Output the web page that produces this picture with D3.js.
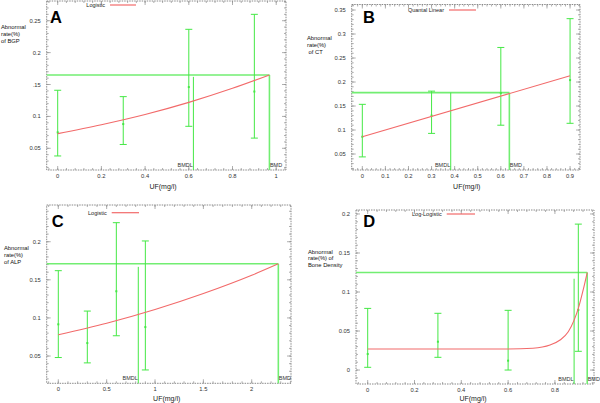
<!DOCTYPE html>
<html><head><meta charset="utf-8">
<script src="https://cdn.jsdelivr.net/npm/d3@7"></script>
<style>body{margin:0;background:#fff}svg{display:block}text{font-family:"Liberation Sans",Arial,sans-serif}</style>
</head><body>
<svg id="c" width="600" height="403"></svg>
<script>
// ---------- data ----------
const doseA = [0, 0.3, 0.6, 0.9];
const meanA = [0.075, 0.088, 0.146, 0.139];
const lowA  = [0.038, 0.056, 0.0845, 0.066];
const highA = [0.141, 0.131, 0.2365, 0.260];
const fitXA = [0, 0.2, 0.4, 0.6, 0.8, 0.969];
const fitYA = [0.073, 0.087, 0.103, 0.122, 0.144, 0.165];
const bmdA = {bmr: 0.165, bmdl: 0.621, bmd: 0.969, bmdlTop: 0.162};
const xTicksA = [0, 0.2, 0.4, 0.6, 0.8, 1];
const xTickLabelsA = ["0", "0.2", "0.4", "0.6", "0.8", "1"];
const yTicksA = [0.05, 0.1, 0.15, 0.2, 0.25];
const yTickLabelsA = ["0.05", "0.1", ".15", "0.2", "0.25"];

const doseB = [0, 0.3, 0.6, 0.9];
const meanB = [0.086, 0.130, 0.177, 0.204];
const lowB  = [0.044, 0.093, 0.110, 0.114];
const highB = [0.1535, 0.181, 0.272, 0.332];
const fitXB = [0, 0.9];
const fitYB = [0.086, 0.213];
const bmdB = {bmr: 0.178, bmdl: 0.383, bmd: 0.637, bmdlTop: 0.178};
const xTicksB = [0, 0.1, 0.2, 0.3, 0.4, 0.5, 0.6, 0.7, 0.8, 0.9];
const xTickLabelsB = ["0", "0.1", "0.2", "0.3", "0.4", "0.5", "0.6", "0.7", "0.8", "0.9"];
const yTicksB = [0.05, 0.1, 0.15, 0.2, 0.25, 0.3, 0.35];
const yTickLabelsB = ["0.05", "0.1", "0.15", "0.2", "0.25", "0.3", "0.35"];

const doseC = [0, 0.3, 0.6, 0.9];
const meanC = [0.0916, 0.067, 0.135, 0.088];
const lowC  = [0.048, 0.041, 0.0766, 0.0317];
const highC = [0.162, 0.109, 0.225, 0.201];
const fitXC = [0, 0.5, 1, 1.5, 2, 2.275];
const fitYC = [0.078, 0.093, 0.111, 0.132, 0.156, 0.171];
const bmdC = {bmr: 0.171, bmdl: 0.827, bmd: 2.275, bmdlTop: 0.167};
const xTicksC = [0, 0.5, 1, 1.5, 2];
const xTickLabelsC = ["0", "0.5", "1", "1.5", "2"];
const yTicksC = [0.05, 0.1, 0.15, 0.2];
const yTickLabelsC = ["0.05", "0.1", "0.15", "0.2"];

const doseD = [0, 0.3, 0.6, 0.9];
const meanD = [0.0205, 0.0363, 0.012, 0.077];
const lowD  = [0.0035, 0.0163, 0.0, 0.024];
const highD = [0.079, 0.0727, 0.0765, 0.187];
const fitXD = [0, 0.2, 0.4, 0.6, 0.706, 0.779, 0.822, 0.857, 0.882, 0.900, 0.921, 0.938];
const fitYD = [0.027, 0.027, 0.027, 0.027, 0.028, 0.032, 0.0385, 0.049, 0.064, 0.079, 0.103, 0.125];
const bmdD = {bmr: 0.125, bmdl: 0.882, bmd: 0.938, bmdlTop: 0.117};
const xTicksD = [0, 0.2, 0.4, 0.6, 0.8];
const xTickLabelsD = ["0", "0.2", "0.4", "0.6", "0.8"];
const yTicksD = [0, 0.05, 0.1, 0.15, 0.2];
const yTickLabelsD = ["0", "0.05", "0.1", "0.15", "0.2"];

const letters = ["A", "B", "C", "D"];
const legendNames = ["Logistic", "Quantal Linear", "Logistic", "Log-Logistic"];
const yLabels = [["Abnormal", "rate(%)", "of BGP"], ["Abnormal", "rate(%)", " of CT"], ["Abnormal", "rate(%)", "of ALP"], ["Abnormal", "rate(%) of", "Bone Density"]];
const xLabel = "UF(mg/l)";

// ---------- layout ----------
const panels = [
  {dose: doseA, mean: meanA, low: lowA, high: highA, fx: fitXA, fy: fitYA, bmd: bmdA, xt: xTicksA, xtl: xTickLabelsA, yt: yTicksA, ytl: yTickLabelsA,
   box: [46.7, 286, 1, 170], xd: [-0.0503, 1.0448], yd: [0.016, 0.2809],
   yl: [1, 29, 7], letter: [50, 23], leg: [110, 136, 5], xlab: [163, 189]},
  {dose: doseB, mean: meanB, low: lowB, high: highB, fx: fitXB, fy: fitYB, bmd: bmdB, xt: xTicksB, xtl: xTickLabelsB, yt: yTicksB, ytl: yTickLabelsB,
   box: [351.7, 580, 4.5, 170], xd: [-0.046, 0.943], yd: [0.0167, 0.3615],
   yl: [307, 40, 7], letter: [363, 23], leg: [449, 476, 10], xlab: [466.7, 189]},
  {dose: doseC, mean: meanC, low: lowC, high: highC, fx: fitXC, fy: fitYC, bmd: bmdC, xt: xTicksC, xtl: xTickLabelsC, yt: yTicksC, ytl: yTickLabelsC,
   box: [46.7, 291, 205, 383.3], xd: [-0.12, 2.406], yd: [0.0142, 0.2482],
   yl: [4, 250, 7], letter: [51.7, 226.5], leg: [111.7, 139, 212.7], xlab: [166.7, 401]},
  {dose: doseD, mean: meanD, low: lowD, high: highD, fx: fitXD, fy: fitYD, bmd: bmdD, xt: xTicksD, xtl: xTickLabelsD, yt: yTicksD, ytl: yTickLabelsD,
   box: [356, 594, 210, 384], xd: [-0.05, 0.967], yd: [-0.0179, 0.2051],
   yl: [308, 253.7, 6.7], letter: [363.3, 226.5], leg: [446.7, 475, 214], xlab: [473, 401]}
];

const svg = d3.select("#c");
const GREEN = "#45e845", HGREEN = "#72ee72", RED = "#f26a6a", FRAME = "#8a8a8a";

panels.forEach((p, i) => {
  const [x0, x1, y0, y1] = p.box;
  const x = d3.scaleLinear().domain(p.xd).range([x0, x1]);
  const y = d3.scaleLinear().domain(p.yd).range([y1, y0]);
  const g = svg.append("g");

  // minor ticks
  const xStep = p.xt[1] - p.xt[0], yStep = p.yt[1] - p.yt[0];
  const xMinor = d3.range(Math.ceil(p.xd[0] / (xStep / 5)), Math.floor(p.xd[1] / (xStep / 5)) + 1).map(k => k * xStep / 5);
  const yMinor = d3.range(Math.ceil(p.yd[0] / (yStep / 5)), Math.floor(p.yd[1] / (yStep / 5)) + 1).map(k => k * yStep / 5);
  const mg = g.append("g").attr("stroke", "#9a9a9a").attr("stroke-width", 0.8);
  xMinor.forEach(v => {
    mg.append("line").attr("x1", x(v)).attr("x2", x(v)).attr("y1", y1).attr("y2", y1 - 2);
    mg.append("line").attr("x1", x(v)).attr("x2", x(v)).attr("y1", y0).attr("y2", y0 + 2);
  });
  yMinor.forEach(v => {
    mg.append("line").attr("y1", y(v)).attr("y2", y(v)).attr("x1", x0).attr("x2", x0 + 2);
    mg.append("line").attr("y1", y(v)).attr("y2", y(v)).attr("x1", x1).attr("x2", x1 - 2);
  });
  // major ticks
  p.xt.forEach(v => {
    mg.append("line").attr("x1", x(v)).attr("x2", x(v)).attr("y1", y1).attr("y2", y1 - 4);
    mg.append("line").attr("x1", x(v)).attr("x2", x(v)).attr("y1", y0).attr("y2", y0 + 4);
  });
  p.yt.forEach(v => {
    mg.append("line").attr("y1", y(v)).attr("y2", y(v)).attr("x1", x0).attr("x2", x0 + 4);
    mg.append("line").attr("y1", y(v)).attr("y2", y(v)).attr("x1", x1).attr("x2", x1 - 4);
  });
  g.append("rect").attr("x", x0).attr("y", y0).attr("width", x1 - x0).attr("height", y1 - y0)
    .attr("fill", "none").attr("stroke", FRAME).attr("stroke-width", 1).attr("stroke-dasharray", "1.5,1");

  // tick labels
  g.selectAll(".xtl").data(p.xt).enter().append("text").attr("x", d => x(d)).attr("y", y1 + 8)
    .attr("text-anchor", "middle").attr("font-size", 5.8).attr("fill", "#333").text((d, k) => p.xtl[k]);
  g.selectAll(".ytl").data(p.yt).enter().append("text").attr("x", x0 - 6).attr("y", d => y(d) + 2)
    .attr("text-anchor", "end").attr("font-size", 5.8).attr("fill", "#333").text((d, k) => p.ytl[k]);

  // BMD lines
  g.append("line").attr("x1", x0).attr("x2", x(p.bmd.bmd)).attr("y1", y(p.bmd.bmr)).attr("y2", y(p.bmd.bmr))
    .attr("stroke", HGREEN).attr("stroke-width", 1.6);
  g.append("line").attr("x1", x(p.bmd.bmd)).attr("x2", x(p.bmd.bmd)).attr("y1", y1).attr("y2", y(p.bmd.bmr))
    .attr("stroke", HGREEN).attr("stroke-width", 1.6);
  g.append("line").attr("x1", x(p.bmd.bmdl)).attr("x2", x(p.bmd.bmdl)).attr("y1", y1).attr("y2", y(p.bmd.bmdlTop))
    .attr("stroke", GREEN).attr("stroke-width", 1);
  g.append("text").attr("x", x(p.bmd.bmdl) - 0.5).attr("y", y1 - 3).attr("text-anchor", "end")
    .attr("font-size", 5.5).attr("fill", "#333").text("BMDL");
  g.append("text").attr("x", x(p.bmd.bmd) + 0.5).attr("y", y1 - 3).attr("text-anchor", "start")
    .attr("font-size", 5.5).attr("fill", "#333").text("BMD");

  // error bars
  const eb = g.append("g").attr("stroke", GREEN).attr("stroke-width", 1);
  p.dose.forEach((d, k) => {
    eb.append("line").attr("x1", x(d)).attr("x2", x(d)).attr("y1", y(p.low[k])).attr("y2", y(p.high[k]));
    eb.append("line").attr("x1", x(d) - 3.5).attr("x2", x(d) + 3.5).attr("y1", y(p.low[k])).attr("y2", y(p.low[k]));
    eb.append("line").attr("x1", x(d) - 3.5).attr("x2", x(d) + 3.5).attr("y1", y(p.high[k])).attr("y2", y(p.high[k]));
    eb.append("rect").attr("x", x(d) - 1).attr("y", y(p.mean[k]) - 1).attr("width", 2).attr("height", 2)
      .attr("fill", GREEN).attr("stroke", "none");
  });

  // fitted curve
  const pts = p.fx.map((v, k) => [v, p.fy[k]]);
  g.append("path").datum(pts).attr("fill", "none").attr("stroke", RED).attr("stroke-width", 1.1)
    .attr("d", d3.line().x(d => x(d[0])).y(d => y(d[1])).curve(d3.curveMonotoneX));

  // legend
  g.append("line").attr("x1", p.leg[0]).attr("x2", p.leg[1]).attr("y1", p.leg[2]).attr("y2", p.leg[2])
    .attr("stroke", RED).attr("stroke-width", 1.2);
  g.append("text").attr("x", p.leg[0] - 5).attr("y", p.leg[2] + 2).attr("text-anchor", "end")
    .attr("font-size", 5.5).attr("fill", "#222").text(legendNames[i]);

  // panel letter
  g.append("text").attr("x", p.letter[0]).attr("y", p.letter[1]).attr("font-size", 16.5)
    .attr("font-weight", "bold").attr("fill", "#000").text(letters[i]);

  // y label
  yLabels[i].forEach((t, k) => {
    g.append("text").attr("x", p.yl[0]).attr("y", p.yl[1] + k * p.yl[2]).attr("font-size", 5.8)
      .attr("fill", "#111").attr("xml:space", "preserve").style("white-space", "pre").text(t);
  });

  // x label
  g.append("text").attr("x", p.xlab[0]).attr("y", p.xlab[1]).attr("text-anchor", "middle")
    .attr("font-size", 7).attr("fill", "#222").text(xLabel);
});
</script>
</body></html>
